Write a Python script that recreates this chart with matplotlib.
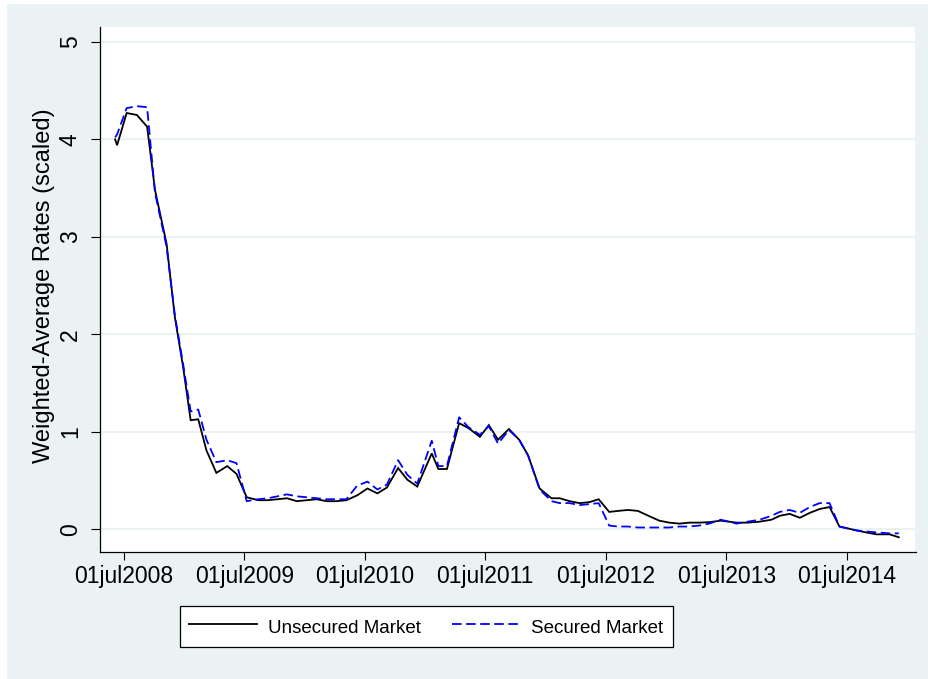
import matplotlib
matplotlib.use('Agg')
import matplotlib.pyplot as plt
import matplotlib.dates as mdates
from matplotlib.patches import Rectangle
from matplotlib import font_manager
import datetime as dt

# ---------------- data ----------------
dates = [
    '2008-06-04', '2008-06-10', '2008-07-09', '2008-08-09', '2008-09-09', '2008-10-03',
    '2008-11-07', '2008-12-02', '2008-12-27',
    '2009-01-19', '2009-02-11', '2009-03-08', '2009-04-07', '2009-05-10', '2009-06-07',
    '2009-07-08', '2009-08-12', '2009-09-10', '2009-10-10', '2009-11-07', '2009-12-07',
    '2010-01-06', '2010-02-05', '2010-03-07', '2010-04-06', '2010-05-06', '2010-06-08',
    '2010-07-09', '2010-08-08', '2010-09-06', '2010-10-10', '2010-11-07', '2010-12-07',
    '2011-01-20', '2011-02-09', '2011-03-07', '2011-04-13', '2011-05-11', '2011-06-15',
    '2011-07-12', '2011-08-09', '2011-09-11', '2011-10-12', '2011-11-08', '2011-12-13',
    '2012-01-18', '2012-02-12', '2012-03-13', '2012-04-12', '2012-05-12', '2012-06-09',
    '2012-07-11', '2012-08-06', '2012-09-06', '2012-10-06', '2012-11-07', '2012-12-10',
    '2013-01-09', '2013-02-09', '2013-03-11', '2013-04-10', '2013-05-10', '2013-06-14',
    '2013-07-09', '2013-08-01', '2013-09-04', '2013-10-10', '2013-11-15', '2013-12-10',
    '2014-01-09', '2014-02-09', '2014-03-11', '2014-04-10', '2014-05-10', '2014-06-09',
    '2014-07-05', '2014-07-31', '2014-08-28', '2014-09-29', '2014-11-08', '2014-12-06',
]

unsecured = [
    4.00, 3.94, 4.27, 4.25, 4.13, 3.48, 2.93, 2.18, 1.67,
    1.12, 1.13, 0.81, 0.58, 0.65, 0.57, 0.33, 0.30, 0.30, 0.31, 0.32, 0.29,
    0.30, 0.31, 0.29, 0.29, 0.30, 0.35, 0.42, 0.37, 0.43, 0.63, 0.51, 0.44,
    0.78, 0.62, 0.62, 1.09, 1.04, 0.95, 1.07, 0.92, 1.03, 0.92, 0.76, 0.42,
    0.32, 0.32, 0.29, 0.27, 0.28, 0.31, 0.18, 0.19, 0.20, 0.19, 0.14, 0.09,
    0.07, 0.06, 0.07, 0.07, 0.075, 0.09, 0.08, 0.07, 0.07, 0.08, 0.10, 0.14,
    0.16, 0.12, 0.17, 0.21, 0.23, 0.03, 0.01, -0.01, -0.03, -0.05, -0.05, -0.08,
]

secured = [
    4.02, 4.05, 4.32, 4.34, 4.33, 3.45, 2.90, 2.20, 1.70,
    1.21, 1.23, 0.92, 0.69, 0.71, 0.68, 0.29, 0.31, 0.32, 0.34, 0.36, 0.34,
    0.33, 0.32, 0.31, 0.31, 0.31, 0.45, 0.49, 0.41, 0.46, 0.71, 0.56, 0.47,
    0.91, 0.65, 0.65, 1.15, 1.05, 0.97, 1.06, 0.88, 1.02, 0.92, 0.76, 0.41,
    0.29, 0.27, 0.27, 0.25, 0.26, 0.27, 0.04, 0.03, 0.03, 0.02, 0.02, 0.02,
    0.02, 0.03, 0.03, 0.04, 0.06, 0.10, 0.08, 0.06, 0.08, 0.10, 0.14, 0.18,
    0.20, 0.17, 0.23, 0.27, 0.27, 0.03, 0.01, -0.01, -0.02, -0.03, -0.04, -0.04,
]

tick_dates = ['2008-07-01', '2009-07-01', '2010-07-01', '2011-07-01',
              '2012-07-01', '2013-07-01', '2014-07-01']
tick_labels = ['01jul2008', '01jul2009', '01jul2010', '01jul2011',
               '01jul2012', '01jul2013', '01jul2014']
y_ticks = [0, 1, 2, 3, 4, 5]
y_tick_labels = ['0', '1', '2', '3', '4', '5']
series_names = ['Unsecured Market', 'Secured Market']
y_title = 'Weighted-Average Rates (scaled)'

# ---------------- fonts ----------------
names = {f.name for f in font_manager.fontManager.ttflist}
base_font = 'Liberation Sans' if 'Liberation Sans' in names else 'DejaVu Sans'
plt.rcParams['font.family'] = [base_font, 'DejaVu Sans']
if 'Liberation Sans Narrow' in names:
    legend_family = ['Liberation Sans Narrow', base_font]
    legend_size = 16
else:
    legend_family = [base_font]
    legend_size = 13.5

# ---------------- figure ----------------
W, H = 929, 679
BG = '#EAF2F3'
fig = plt.figure(figsize=(W / 100, H / 100), dpi=100, facecolor='white')
bg = Rectangle((7 / W, 0), 1 - 7 / W, 1 - 4 / H, transform=fig.transFigure,
               facecolor=BG, edgecolor='none', zorder=-10)
fig.add_artist(bg)

left, right, top, bottom = 100, 915.5, 27, 551.7
ax = fig.add_axes([left / W, (H - bottom) / H, (right - left) / W, (bottom - top) / H])
ax.set_zorder(1)
ax.set_facecolor('white')

x = [mdates.date2num(dt.datetime.strptime(d, '%Y-%m-%d')) for d in dates]
l1, = ax.plot(x, unsecured, color='black', lw=1.3, solid_joinstyle='miter',
              label=series_names[0], zorder=3)
l2, = ax.plot(x, secured, color='#0000ff', lw=1.3, linestyle=(0, (5.3, 2.5)),
              label=series_names[1], zorder=4)

base = mdates.date2num(dt.datetime(2008, 7, 1))
ax.set_xlim(base - 72.8, base + 2399.6)
ax.set_ylim(-0.228, 5.152)

xt = [mdates.date2num(dt.datetime.strptime(d, '%Y-%m-%d')) for d in tick_dates]
ax.set_xticks(xt)
ax.set_xticklabels(tick_labels, fontsize=16.5)
ax.set_yticks(y_ticks)
ax.set_yticklabels(y_tick_labels, fontsize=16.5, rotation=90, va='center', ha='right')

ax.yaxis.grid(True, color=BG, lw=1.4, zorder=0)
ax.xaxis.grid(False)
ax.set_axisbelow(True)

for s in ['top', 'right']:
    ax.spines[s].set_visible(False)
for s in ['left', 'bottom']:
    ax.spines[s].set_color('black')
    ax.spines[s].set_linewidth(0.9)

ax.tick_params(axis='y', direction='out', length=6.5, width=0.8, pad=6.5, colors='black')
ax.tick_params(axis='x', direction='out', length=6.0, width=0.8, pad=3.5, colors='black')

ax.set_ylabel(y_title, fontsize=17, rotation=90)
ax.yaxis.set_label_coords((55 - left) / (right - left), (bottom - 286) / (bottom - top))

em = legend_size * 100 / 72
leg = ax.legend(handles=[l1, l2], labels=series_names, ncol=2, loc='center',
                bbox_to_anchor=(426.5 / W, 1 - 626.5 / H), bbox_transform=fig.transFigure,
                prop={'family': legend_family, 'size': legend_size},
                frameon=True, fancybox=False, shadow=False, framealpha=1,
                edgecolor='black', facecolor='white',
                handlelength=68 / em, handletextpad=11 / em, columnspacing=31 / em,
                handleheight=1.5, borderpad=9 / em, borderaxespad=0)
leg.get_frame().set_linewidth(0.9)

fig.savefig('out.png', dpi=100, facecolor=fig.get_facecolor())
